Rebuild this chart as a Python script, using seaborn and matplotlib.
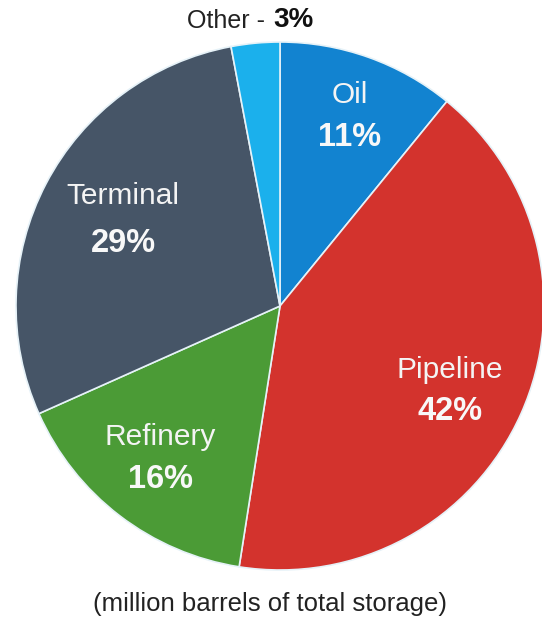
import matplotlib
matplotlib.use("Agg")
import matplotlib.pyplot as plt
import seaborn as sns

categories = ["Oil", "Pipeline", "Refinery", "Terminal", "Other"]
shares = [11, 42, 16, 29, 3]
pct_labels = ["11%", "42%", "16%", "29%", "3%"]
caption = "(million barrels of total storage)"

colors = ["#1283D0", "#D3332D", "#4B9B36", "#465567", "#1BB0EC"]

sns.set_theme(style="white")
plt.rcParams["font.family"] = ["Liberation Sans", "DejaVu Sans"]

W, H = 542, 619
fig = plt.figure(figsize=(W / 100, H / 100), dpi=100)
ax = fig.add_axes([0, 0, 1, 1])

def py(y):
    return H - y

ax.pie(shares, colors=colors, startangle=90, counterclock=False,
       center=(280, py(306)), radius=264, frame=True,
       wedgeprops=dict(edgecolor="#E6F2F8", linewidth=1.2))
ax.set_xlim(0, W)
ax.set_ylim(0, H)
ax.set_aspect("equal")
ax.axis("off")

label_pos = {
    "Oil": (350, 95, 138),
    "Pipeline": (450, 370, 412),
    "Refinery": (160, 437, 479),
    "Terminal": (123, 196, 244),
}
for cat, pct in zip(categories, pct_labels):
    if cat in label_pos:
        x, y1, y2 = label_pos[cat]
        ax.text(x, py(y1), cat, ha="center", va="center", fontsize=21.5,
                color="#F4F4F4")
        ax.text(x, py(y2), pct, ha="center", va="center", fontsize=23.5,
                color="#F8F8F8", fontweight="bold")

# Other label above the pie
ax.text(272, py(21), categories[4] + " - ", ha="right", va="center",
        fontsize=18, color="#222222")
ax.text(273, py(20), pct_labels[4], ha="left", va="center",
        fontsize=20, color="#111111", fontweight="bold")

ax.text(270, py(604), caption, ha="center", va="center", fontsize=18.5,
        color="#222222")

fig.savefig("out.png", dpi=100, facecolor="white")
